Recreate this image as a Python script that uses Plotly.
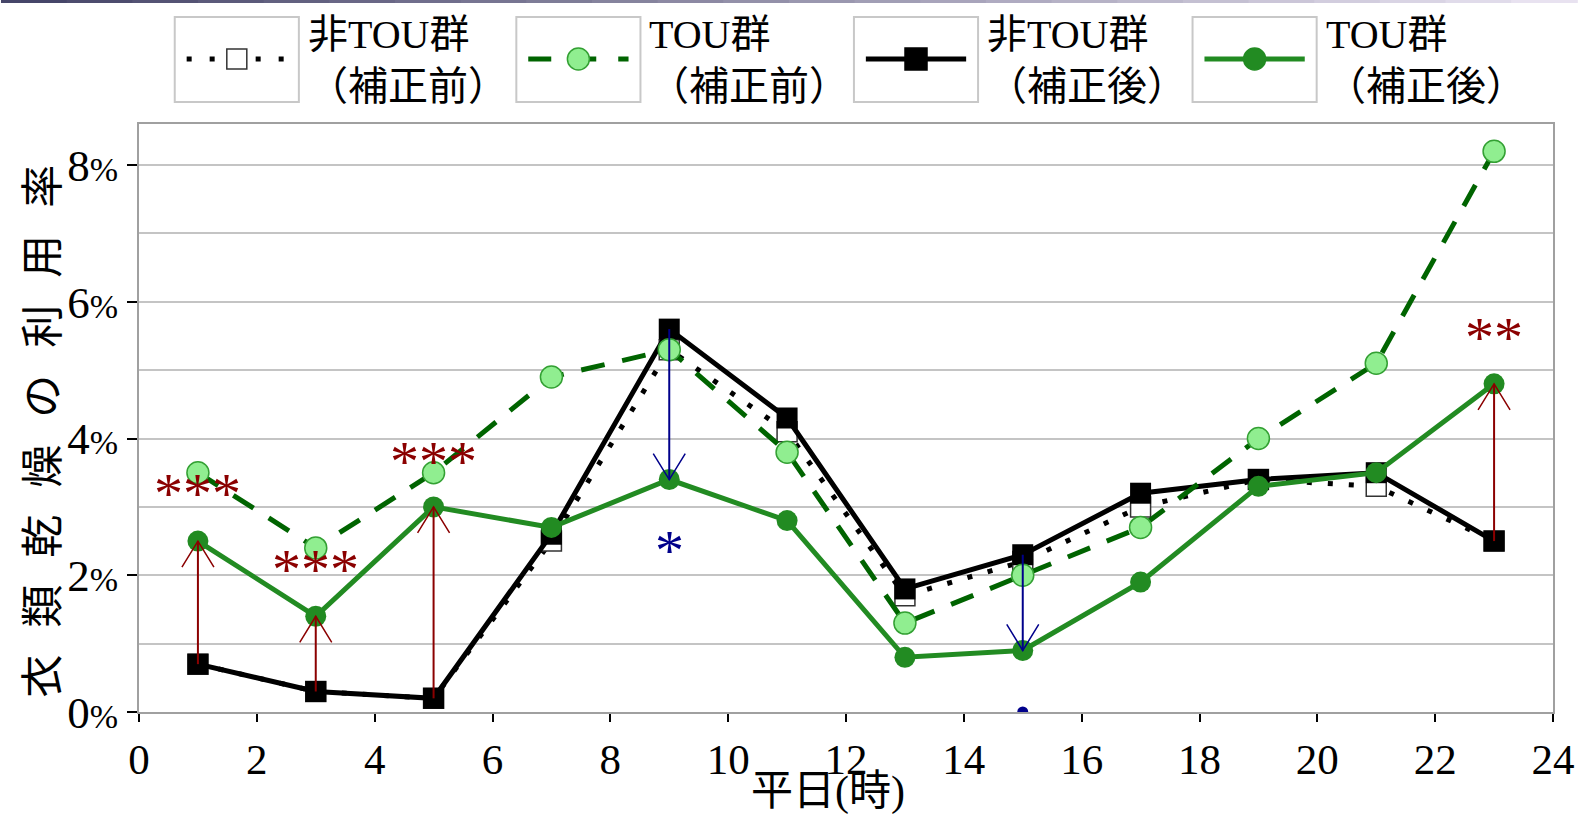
import plotly.graph_objects as go

# --- data (percent) ---
hours = [1, 3, 5, 7, 9, 11, 13, 15, 17, 19, 21, 23]
non_tou_before = [0.7, 0.3, 0.2, 2.5, 5.3, 4.1, 1.7, 2.2, 3.0, 3.4, 3.3, 2.5]
tou_before = [3.5, 2.4, 3.5, 4.9, 5.3, 3.8, 1.3, 2.0, 2.7, 4.0, 5.1, 8.2]
non_tou_after = [0.7, 0.3, 0.2, 2.6, 5.6, 4.3, 1.8, 2.3, 3.2, 3.4, 3.5, 2.5]
tou_after = [2.5, 1.4, 3.0, 2.7, 3.4, 2.8, 0.8, 0.9, 1.9, 3.3, 3.5, 4.8]

# significance marks: hour, label, direction of the change
sig_hours = [1, 3, 5, 9, 15, 23]
sig_labels = ["***", "***", "***", "*", ".", "**"]
sig_up = [True, True, True, False, False, True]
# vertical placement of the star labels (percent)
sig_label_y = [3.35, 2.25, 3.83, 2.53, 0.0, 5.64]

x_ticks = [0, 2, 4, 6, 8, 10, 12, 14, 16, 18, 20, 22, 24]
y_ticks = [0, 2, 4, 6, 8]
y_tick_num = ["0", "2", "4", "6", "8"]

legend_names = ["非TOU群<br>（補正前）", "TOU群<br>（補正前）", "非TOU群<br>（補正後）", "TOU群<br>（補正後）"]
x_title = "平日(時)"
y_title = "衣類乾燥の利用率"

FONT = "Liberation Serif, 'Noto Sans CJK JP', serif"
UP_RED = "#8b0000"
DOWN_BLUE = "#00008b"
W, H = 1587, 818
ML, MR, MT, MB = 139, 24, 124, 106
PW, PH = W - ML - MR, H - MT - MB


def px_x(p):
    return (p - ML) / PW


def px_y(p):
    return (H - MB - p) / PH


fig = go.Figure()

fig.add_trace(go.Scatter(
    x=hours, y=non_tou_before, mode="lines+markers", name="非TOU群(補正前)",
    line=dict(color="black", width=5, dash="5px,16px"),
    marker=dict(symbol="square", size=20, color="white", line=dict(color="#333333", width=1.5)),
))
fig.add_trace(go.Scatter(
    x=hours, y=non_tou_after, mode="lines+markers", name="非TOU群(補正後)",
    line=dict(color="black", width=5),
    marker=dict(symbol="square", size=21, color="black"),
))
fig.add_trace(go.Scatter(
    x=hours, y=tou_before, mode="lines+markers", name="TOU群(補正前)",
    line=dict(color="#006400", width=5, dash="24px,18px"),
    marker=dict(symbol="circle", size=22, color="#90ee90", line=dict(color="#33a033", width=1.5)),
))
fig.add_trace(go.Scatter(
    x=hours, y=tou_after, mode="lines+markers", name="TOU群(補正後)",
    line=dict(color="#228b22", width=5),
    marker=dict(symbol="circle", size=21, color="#228b22"),
))

shapes = []
annotations = []

# thin banner strip along the top edge, dark slate fading to pale lilac
n_seg = 24
for k in range(n_seg):
    t = k / (n_seg - 1)
    r = int(70 + t * (232 - 70))
    g = int(70 + t * (226 - 70))
    b = int(105 + t * (240 - 105))
    shapes.append(dict(type="rect", xref="paper", yref="paper",
                       x0=px_x(k * W / n_seg), x1=px_x((k + 1) * W / n_seg + 1),
                       y0=px_y(3), y1=px_y(0), line=dict(width=0),
                       fillcolor=f"rgb({r},{g},{b})", layer="above"))

# arrows from non-TOU (corrected) to TOU (corrected), with open V heads
for h, lab, up, ly in zip(sig_hours, sig_labels, sig_up, sig_label_y):
    i = hours.index(h)
    y_from, y_to = non_tou_after[i], tou_after[i]
    col = UP_RED if up else DOWN_BLUE
    if lab == ".":
        fig.add_trace(go.Scatter(x=[h], y=[ly], mode="markers", cliponaxis=True,
                                 marker=dict(size=11, color=col), showlegend=False))
    else:
        annotations.append(dict(x=h, y=ly, xref="x", yref="y", text=lab, showarrow=False,
                                font=dict(family="Liberation Serif", size=58, color=col),
                                yanchor="middle", yshift=-11))
    shapes.append(dict(type="line", xref="x", yref="y", x0=h, x1=h, y0=y_from, y1=y_to,
                       line=dict(color=col, width=2), layer="above"))
    d = -26 if y_to > y_from else 26
    shapes.append(dict(type="path", xref="x", yref="y", xsizemode="pixel", ysizemode="pixel",
                       xanchor=h, yanchor=y_to, path=f"M-16,{d} L0,0 L16,{d}",
                       line=dict(color=col, width=1.5), layer="above"))

# legend boxes with line samples
box_left = [175, 519, 859, 1200]
box_w, box_top, box_bot = 125, 17, 102
sample_y = 59
styles = [
    dict(color="black", width=5, dash="5px,18px"),
    dict(color="#006400", width=5, dash="23px,22px"),
    dict(color="black", width=5, dash="solid"),
    dict(color="#228b22", width=5, dash="solid"),
]
markers = [
    ("rect", 10, "white", "#333333"),
    ("circle", 11, "#90ee90", "#33a033"),
    ("rect", 11, "black", "black"),
    ("circle", 11, "#228b22", "#228b22"),
]
for bl, st, mk, name in zip(box_left, styles, markers, legend_names):
    shapes.append(dict(type="rect", xref="paper", yref="paper",
                       x0=px_x(bl), x1=px_x(bl + box_w), y0=px_y(box_bot), y1=px_y(box_top),
                       line=dict(color="#c8c8c8", width=2), fillcolor="white", layer="above"))
    cx = bl + box_w / 2
    shapes.append(dict(type="line", xref="paper", yref="paper",
                       x0=px_x(bl + 12), x1=px_x(bl + box_w - 12),
                       y0=px_y(sample_y), y1=px_y(sample_y), line=st, layer="above"))
    kind, r, fill, edge = mk
    shapes.append(dict(type=kind, xref="paper", yref="paper", xsizemode="pixel", ysizemode="pixel",
                       xanchor=px_x(cx), yanchor=px_y(sample_y), x0=-r, x1=r, y0=-r, y1=r,
                       fillcolor=fill, line=dict(color=edge, width=1.5), layer="above"))
    annotations.append(dict(x=px_x(bl + box_w + 7), y=px_y(60), xref="paper", yref="paper",
                            text=name, showarrow=False, xanchor="left", yanchor="middle",
                            align="left", font=dict(family=FONT, size=40, color="black")))

# axis titles
annotations.append(dict(x=px_x(42), y=0.5, xref="paper", yref="paper",
                        text=f'<span style="letter-spacing:27px">{y_title}</span>',
                        textangle=-90, showarrow=False, xanchor="center", yanchor="middle",
                        font=dict(family=FONT, size=43, color="black")))
annotations.append(dict(x=px_x(833), y=px_y(817), xref="paper", yref="paper",
                        text=x_title, showarrow=False, xanchor="center", yanchor="bottom",
                        font=dict(family=FONT, size=42, color="black")))

y_tick_text = [f'{n}<span style="font-size:34px">%</span>' for n in y_tick_num]

fig.update_layout(
    width=W, height=H,
    margin=dict(l=ML, r=MR, t=MT, b=MB),
    paper_bgcolor="white", plot_bgcolor="white",
    showlegend=False,
    font=dict(family=FONT, color="black"),
    shapes=shapes, annotations=annotations,
    xaxis=dict(
        range=[0, 24], tickvals=x_ticks, ticks="outside", ticklen=8, tickwidth=2, tickcolor="black",
        showgrid=False, zeroline=False, showline=True, mirror=True, linecolor="#a0a0a0", linewidth=2,
        tickfont=dict(family="Liberation Serif", size=43), ticklabelstandoff=0,
    ),
    yaxis=dict(
        range=[0, 8.6], tickvals=y_ticks, ticktext=y_tick_text, ticks="outside", ticklen=10,
        tickwidth=2, tickcolor="black", showgrid=True, gridcolor="#c4c4c4", gridwidth=2,
        minor=dict(dtick=1, showgrid=True, gridcolor="#c4c4c4", gridwidth=2, ticks=""),
        zeroline=False, showline=True, mirror=True, linecolor="#a0a0a0", linewidth=2,
        tickfont=dict(family="Liberation Serif", size=45), ticklabelstandoff=0,
    ),
)

fig.write_html("out.html")
